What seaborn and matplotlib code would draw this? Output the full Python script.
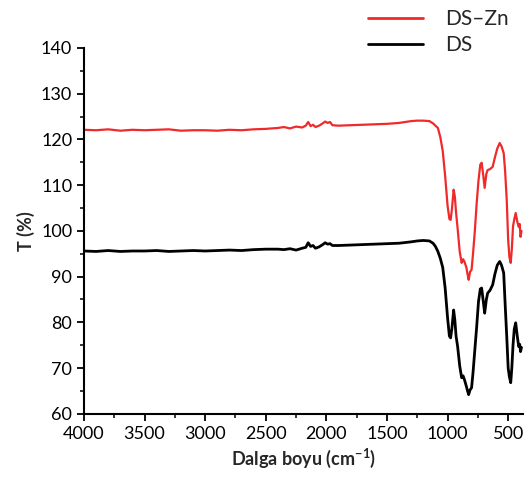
import numpy as np
import pandas as pd
import matplotlib
matplotlib.use('Agg')
import matplotlib.pyplot as plt
import seaborn as sns
from matplotlib.ticker import MultipleLocator

# wavenumber (cm-1) and transmittance
wavenumber = [4000, 3900, 3800, 3700, 3600, 3500, 3400, 3300, 3200, 3100, 3000,
              2900, 2800, 2700, 2600, 2500, 2400, 2350, 2300, 2250, 2200, 2170,
              2150, 2130, 2110, 2090, 2060, 2030, 2010, 1990, 1970, 1950, 1900,
              1800, 1700, 1600, 1500, 1400, 1300, 1250, 1200, 1150, 1120, 1100,
              1080, 1060, 1040, 1020, 1000, 985, 975, 965, 950, 940, 930, 917,
              900, 884, 872, 860, 845, 835, 826, 815, 802, 790, 775, 760, 745,
              730, 719, 705, 694, 680, 669, 650, 628, 610, 590, 570, 555, 537,
              525, 512, 500, 490, 479, 470, 460, 450, 438, 425, 413, 405, 398, 390]

ds_zn = [122.1, 122.0, 122.2, 121.9, 122.1, 122.0, 122.1, 122.2, 121.9, 122.0, 122.0,
         121.9, 122.1, 122.0, 122.2, 122.3, 122.5, 122.7, 122.4, 122.8, 122.6, 123.0,
         123.8, 122.9, 123.2, 122.7, 123.0, 123.5, 123.9, 123.6, 123.8, 123.1, 123.0,
         123.1, 123.2, 123.3, 123.4, 123.6, 124.0, 124.1, 124.1, 124.0, 123.5, 123.0,
         122.5, 120.5, 117.5, 112.0, 105.5, 102.6, 102.4, 104.5, 109.0, 107.5, 104.0, 100.5,
         95.5, 93.0, 93.8, 93.2, 92.0, 90.5, 89.3, 91.0, 91.5, 95.0, 100.0, 106.0, 111.0,
         114.5, 114.9, 112.0, 109.4, 112.5, 113.3, 113.5, 114.0, 116.0, 118.0, 119.2, 118.5, 117.0,
         113.0, 106.8, 98.0, 94.3, 93.0, 96.0, 101.0, 102.5, 103.9, 102.0, 100.9, 101.5, 98.7, 100.0]

ds = [95.6, 95.5, 95.7, 95.5, 95.6, 95.6, 95.7, 95.5, 95.6, 95.7, 95.6,
      95.7, 95.8, 95.7, 95.9, 96.0, 96.0, 95.9, 96.1, 95.8, 96.2, 96.4,
      97.4, 96.6, 96.8, 96.2, 96.5, 97.0, 97.4, 97.1, 97.2, 96.8, 96.8,
      96.9, 97.0, 97.1, 97.2, 97.3, 97.6, 97.8, 97.9, 97.8, 97.3, 96.6,
      95.5, 94.0, 92.0, 87.5, 81.0, 77.0, 76.6, 78.5, 82.7, 80.5, 77.0, 74.7,
      70.5, 67.9, 68.3, 67.4, 66.0, 65.0, 64.2, 65.2, 65.7, 69.0, 74.0, 79.0, 84.5,
      87.3, 87.5, 84.5, 82.0, 85.0, 86.4, 87.0, 88.2, 90.5, 92.5, 93.3, 92.5, 90.8,
      84.0, 77.0, 70.0, 68.1, 66.8, 70.0, 75.0, 78.5, 79.9, 77.0, 74.7, 75.2, 73.6, 74.5]

labels = ['DS\u2013Zn', 'DS']
colors = ['#f02a2a', '#000000']

df = pd.concat([
    pd.DataFrame({'w': wavenumber, 'T': ds_zn, 'sample': labels[0]}),
    pd.DataFrame({'w': wavenumber, 'T': ds, 'sample': labels[1]}),
])

sns.set_style('ticks')
plt.rcParams['font.family'] = ['Lato', 'DejaVu Sans']
plt.rcParams['mathtext.fontset'] = 'custom'
plt.rcParams['mathtext.rm'] = 'Lato'
plt.rcParams['mathtext.bf'] = 'Lato:bold'

fig = plt.figure(figsize=(5.28, 4.84), dpi=100)
ax = fig.add_axes([0.159, 0.145, 0.831, 0.756])

sns.lineplot(data=df, x='w', y='T', hue='sample', palette=colors, sort=False,
             estimator=None, ax=ax, legend=False)
ax.lines[0].set_linewidth(1.6)
ax.lines[1].set_linewidth(2.0)

ax.set_xlim(4000, 380)
ax.set_ylim(60, 140)
ax.xaxis.set_major_locator(MultipleLocator(500))
ax.xaxis.set_minor_locator(MultipleLocator(250))
ax.yaxis.set_major_locator(MultipleLocator(10))
ax.yaxis.set_minor_locator(MultipleLocator(5))
ax.tick_params(which='major', length=5, width=1.3, labelsize=13, direction='out', colors='black')
ax.tick_params(which='minor', length=3, width=1.3, direction='out')
for s in ['left', 'bottom']:
    ax.spines[s].set_linewidth(1.5)
    ax.spines[s].set_color('black')
sns.despine(ax=ax)

ax.set_xlabel(r'Dalga boyu (cm$^{\mathbf{-1}}$)', fontsize=13, fontweight='bold')
ax.set_ylabel('T (%)', fontsize=13, fontweight='bold')

handles = [plt.Line2D([], [], color=c, lw=2) for c in colors]
fig.legend(handles, labels, loc='upper left', bbox_to_anchor=(0.661, 1.02),
           frameon=False, fontsize=15, handlelength=2.64, handletextpad=1.05,
           labelspacing=0.3)

fig.savefig('out.png', dpi=100)
